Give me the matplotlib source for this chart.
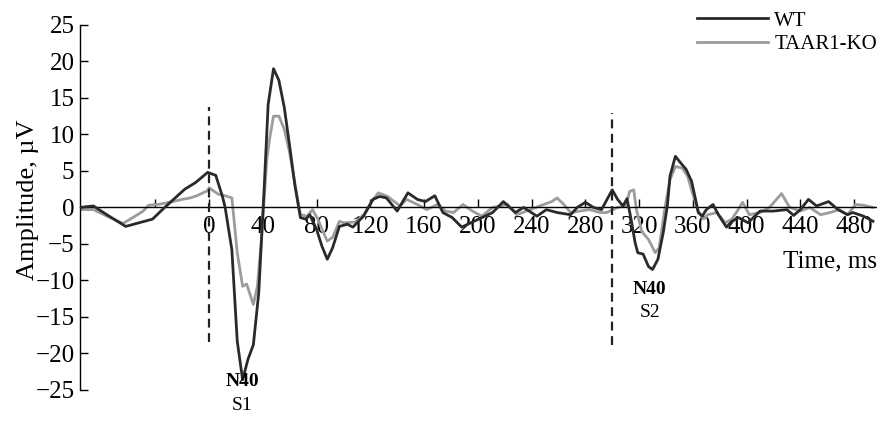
import matplotlib.pyplot as plt

plt.rcParams['font.family'] = ['Liberation Serif', 'DejaVu Serif']

# WT (dark trace)
wt_t = [-96, -86, -76, -62, -50, -42, -33, -18, -10, -1, 5, 10, 12, 17, 21, 25, 29, 33, 37,
        41, 44, 48, 52, 56, 60, 64, 68, 72, 75, 80, 84, 88, 92, 97, 103, 107, 115, 122, 127,
        132, 140, 148, 155, 161, 168, 174, 181, 188, 196, 203, 211, 219, 228, 234, 244, 251,
        259, 269, 274, 280, 286, 292, 300, 304, 308, 311, 314, 317, 319, 323, 327, 330, 334,
        338, 341, 343, 347, 350, 355, 359, 362, 364, 367, 370, 375, 379, 385, 389, 394, 401,
        410, 420, 430, 435, 440, 446, 452, 461, 468, 475, 479, 487, 494]
wt_v = [0.0, 0.2, -1.0, -2.6, -2.0, -1.6, 0.0, 2.5, 3.4, 4.8, 4.4, 1.5, 0.0, -5.8, -18.3,
        -23.6, -20.8, -18.8, -11.7, 2.5, 14.1, 19.0, 17.4, 13.7, 8.4, 2.9, -1.4, -1.6, -1.0,
        -3.0, -5.3, -7.1, -5.5, -2.6, -2.3, -2.7, -1.2, 1.1, 1.5, 1.3, -0.5, 2.0, 1.1, 0.8,
        1.6, -0.7, -1.4, -2.7, -2.0, -1.4, -0.7, 0.8, -0.7, 0.0, -1.2, -0.3, -0.7, -1.0, 0.0,
        0.7, 0.0, -0.3, 2.4, 1.1, 0.2, 1.2, -1.6, -4.8, -6.2, -6.4, -8.1, -8.5, -7.1, -3.4,
        0.2, 4.3, 7.0, 6.3, 5.2, 3.6, 1.1, -0.7, -1.2, -0.3, 0.4, -1.0, -2.7, -1.9, -1.4,
        -2.1, -0.5, -0.5, -0.3, -1.1, -0.3, 1.1, 0.2, 0.8, -0.3, -1.0, -0.7, -1.2, -1.9]

# TAAR1-KO (grey trace)
ko_t = [-96, -86, -76, -64, -55, -49, -45, -38, -27, -20, -14, -9, -1, 0, 7, 12, 17, 21, 25,
        28, 33, 36, 39, 43, 45, 48, 52, 56, 60, 64, 68, 73, 77, 81, 85, 88, 92, 97, 100, 109,
        115, 121, 126, 133, 142, 147, 155, 162, 170, 176, 182, 189, 196, 203, 211, 222, 229,
        239, 246, 255, 259, 264, 269, 276, 283, 291, 296, 304, 310, 313, 316, 318, 322, 327,
        332, 335, 339, 343, 347, 352, 356, 360, 364, 368, 371, 378, 384, 389, 393, 397, 402,
        410, 417, 426, 432, 440, 447, 455, 462, 469, 475, 481, 487, 494]
ko_v = [-0.3, -0.3, -1.2, -2.2, -1.2, -0.5, 0.3, 0.4, 0.8, 1.1, 1.3, 1.6, 2.3, 2.7, 1.8,
        1.6, 1.3, -6.2, -10.8, -10.5, -13.3, -10.8, -4.4, 6.6, 9.3, 12.5, 12.5, 10.7, 7.5,
        3.2, -1.0, -1.2, -0.3, -1.6, -3.4, -4.6, -4.1, -1.9, -2.1, -2.0, -1.0, 0.8, 2.0, 1.5,
        0.2, 1.1, 0.4, -0.3, 0.4, -0.5, -0.7, 0.4, -0.5, -1.2, 0.0, 0.4, -1.0, -0.3, 0.2, 0.8,
        1.3, 0.4, -0.7, -0.5, -0.3, -0.7, -0.7, 0.0, 0.2, 2.2, 2.4, -0.3, -3.3, -4.4, -6.2,
        -5.5, -0.3, 3.8, 5.6, 5.4, 4.3, 1.8, -0.5, -1.6, -1.0, -0.7, -2.1, -1.6, -0.5, 0.7,
        -1.0, -0.7, 0.0, 1.9, 0.0, -0.5, 0.0, -1.0, -0.7, -0.3, -1.0, 0.4, 0.3, 0.0]

stim_t = [0, 300]
stim_top = [13.7, 13.0]
stim_bottom = [-18.4, -18.8]
x_ticks = list(range(-40, 481, 40))
x_labels = ['' if t < 0 else str(t) for t in x_ticks]
y_ticks = list(range(-25, 26, 5))

fig = plt.figure(figsize=(8.77, 4.29), dpi=100)
ax = fig.add_axes([0.0912, 0.091, 0.9088, 0.851])

ax.plot(wt_t, wt_v, color='#2a2a2a', lw=2.0, label='WT', zorder=3)
ax.plot(ko_t, ko_v, color='#9c9c9c', lw=2.0, label='TAAR1-KO', zorder=2)
for t, top, bot in zip(stim_t, stim_top, stim_bottom):
    ax.plot([t, t], [bot, top], color='#222222', lw=1.6, ls=(0, (4, 2.5)), zorder=4)

ax.set_xlim(-96, 497)
ax.set_ylim(-25, 25)
ax.spines['top'].set_visible(False)
ax.spines['right'].set_visible(False)
ax.spines['bottom'].set_position(('data', 0))
ax.spines['bottom'].set_linewidth(1.0)
ax.spines['left'].set_linewidth(1.0)

ax.set_xticks(x_ticks)
ax.set_xticklabels(x_labels)
ax.set_yticks(y_ticks)
ax.tick_params(axis='x', direction='in', length=6, width=1, pad=6, labelsize=18)
ax.tick_params(axis='y', direction='in', length=6, width=1, pad=4, labelsize=18)

ax.set_ylabel('Amplitude, µV', fontsize=19)
ax.yaxis.set_label_coords(-0.052, 0.52)
ax.text(1.0, -7.4, 'Time, ms', transform=ax.get_yaxis_transform(), ha='right',
        va='center', fontsize=18)

ax.text(24.6, -23.9, 'N40', ha='center', va='center', fontsize=14, fontweight='bold',
        clip_on=False)
ax.text(24.6, -27.1, 'S1', ha='center', va='center', fontsize=14, clip_on=False)
ax.text(328, -11.3, 'N40', ha='center', va='center', fontsize=14, fontweight='bold')
ax.text(328, -14.4, 'S2', ha='center', va='center', fontsize=14)

ax.legend(loc='upper right', bbox_to_anchor=(1.0, 1.038), frameon=False, fontsize=15,
          handlelength=3.4, handletextpad=0.3, labelspacing=0.2, borderaxespad=0,
          borderpad=0)

fig.savefig('out.png', dpi=100)
